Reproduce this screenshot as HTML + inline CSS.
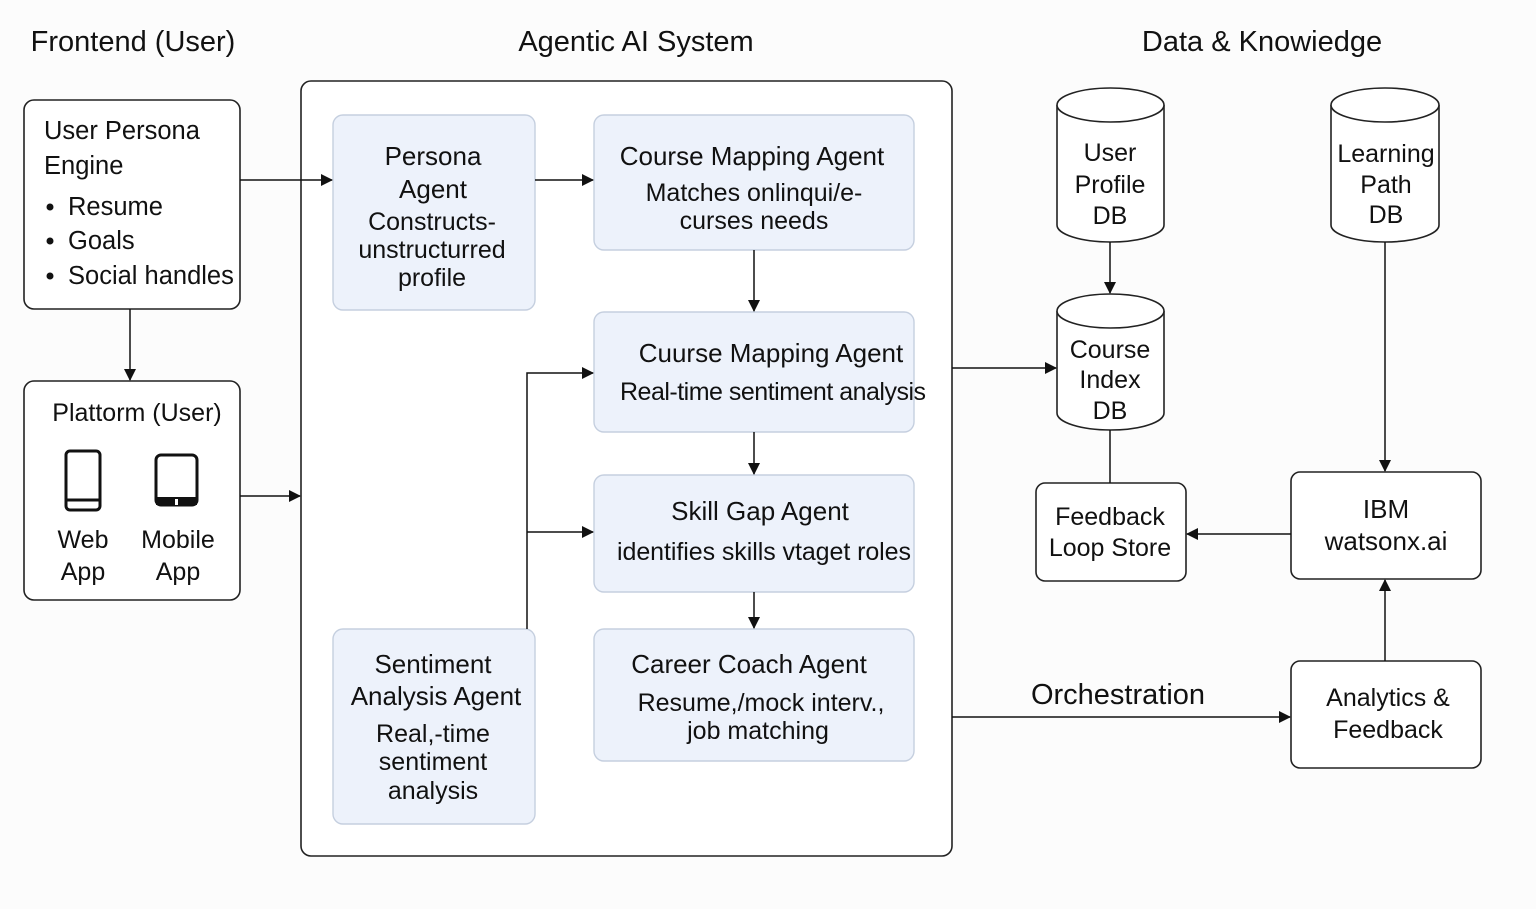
<!DOCTYPE html>
<html><head><meta charset="utf-8"><style>
html,body{margin:0;padding:0;background:#fcfcfc;}
svg{display:block;font-family:"Liberation Sans",sans-serif;}
text{fill:#111;}
</style></head><body>
<svg width="1536" height="909" viewBox="0 0 1536 909" xmlns="http://www.w3.org/2000/svg">
<defs><marker id="a" markerWidth="12" markerHeight="12" refX="11" refY="6" orient="auto" markerUnits="userSpaceOnUse"><path d="M0,0 L12,6 L0,12 z" fill="#111"/></marker></defs>
<rect width="1536" height="909" fill="#fcfcfc"/>
<g font-size="29" text-anchor="middle">
<text x="133" y="51">Frontend (User)</text>
<text x="636" y="51">Agentic AI System</text>
<text x="1262" y="51">Data &amp; Knowiedge</text>
</g>
<g fill="#fff" stroke="#222" stroke-width="1.6">
<rect x="24" y="100" width="216" height="209" rx="10"/>
<rect x="24" y="381" width="216" height="219" rx="10"/>
<rect x="301" y="81" width="651" height="775" rx="10"/>
<rect x="1036" y="483" width="150" height="98" rx="9"/>
<rect x="1291" y="472" width="190" height="107" rx="9"/>
<rect x="1291" y="661" width="190" height="107" rx="9"/>
</g>
<g fill="#edf2fb" stroke="#c5cfdf" stroke-width="1.4">
<rect x="333" y="115" width="202" height="195" rx="10"/>
<rect x="594" y="115" width="320" height="135" rx="10"/>
<rect x="594" y="312" width="320" height="120" rx="10"/>
<rect x="594" y="475" width="320" height="117" rx="10"/>
<rect x="594" y="629" width="320" height="132" rx="10"/>
<rect x="333" y="629" width="202" height="195" rx="10"/>
</g>
<g fill="#fff" stroke="#222" stroke-width="1.6">
<path d="M1057,105 v120 a53.5,17 0 0 0 107,0 v-120"/><ellipse cx="1110.5" cy="105" rx="53.5" ry="17"/>
<path d="M1331,105 v120 a54,17 0 0 0 108,0 v-120"/><ellipse cx="1385" cy="105" rx="54" ry="17"/>
<path d="M1057,311 v102 a53.5,17 0 0 0 107,0 v-102"/><ellipse cx="1110.5" cy="311" rx="53.5" ry="17"/>
</g>
<g fill="none" stroke="#111" stroke-width="3">
<rect x="66" y="451" width="34" height="59" rx="4"/><line x1="66" y1="500" x2="100" y2="500"/>
<rect x="156" y="455" width="41" height="50" rx="5"/>
</g>
<rect x="156" y="497" width="41" height="8" fill="#111"/>
<rect x="175" y="499" width="3" height="6" fill="#fff"/>
<g stroke="#111" stroke-width="1.5" fill="none" marker-end="url(#a)">
<line x1="240" y1="180" x2="332" y2="180"/>
<line x1="535" y1="180" x2="593" y2="180"/>
<line x1="754" y1="250" x2="754" y2="311"/>
<line x1="754" y1="432" x2="754" y2="474"/>
<line x1="754" y1="592" x2="754" y2="628"/>
<line x1="130" y1="309" x2="130" y2="380"/>
<line x1="240" y1="496" x2="300" y2="496"/>
<polyline points="527,629 527,373 593,373"/>
<line x1="527" y1="532" x2="593" y2="532"/>
<line x1="952" y1="368" x2="1056" y2="368"/>
<line x1="1110" y1="242" x2="1110" y2="293"/>
<line x1="1385" y1="242" x2="1385" y2="471"/>
<line x1="1291" y1="534" x2="1187" y2="534"/>
<line x1="1385" y1="661" x2="1385" y2="580"/>
<line x1="952" y1="717" x2="1290" y2="717"/>
</g>
<line x1="1110" y1="430" x2="1110" y2="483" stroke="#111" stroke-width="1.5"/>
<g font-size="25.5">
<text x="44" y="139">User Persona</text>
<text x="44" y="174">Engine</text>
<circle cx="50" cy="207" r="3.5" fill="#111"/><text x="68" y="215">Resume</text>
<circle cx="50" cy="241" r="3.5" fill="#111"/><text x="68" y="249">Goals</text>
<circle cx="50" cy="276" r="3.5" fill="#111"/><text x="68" y="284">Social handles</text>
</g>
<g font-size="25" text-anchor="middle">
<text x="137" y="421">Plattorm (User)</text>
<text x="83" y="548">Web</text><text x="83" y="580">App</text>
<text x="178" y="548">Mobile</text><text x="178" y="580">App</text>
<text x="433" y="165" font-size="26">Persona</text>
<text x="433" y="198" font-size="26">Agent</text>
<text x="432" y="230">Constructs-</text>
<text x="432" y="258">unstructurred</text>
<text x="432" y="286">profile</text>
<text x="752" y="165" font-size="26">Course Mapping Agent</text>
<text x="754" y="201">Matches onlinqui/e-</text>
<text x="754" y="229">curses needs</text>
<text x="771" y="362" font-size="26">Cuurse Mapping Agent</text>
<text x="773" y="400" textLength="306">Real-time sentiment analysis</text>
<text x="760" y="520" font-size="26">Skill Gap Agent</text>
<text x="764" y="560" textLength="294">identifies skills vtaget roles</text>
<text x="749" y="673" font-size="26">Career Coach Agent</text>
<text x="761" y="711">Resume,/mock interv.,</text>
<text x="758" y="739">job matching</text>
<text x="433" y="673" font-size="26">Sentiment</text>
<text x="436" y="705" font-size="26">Analysis Agent</text>
<text x="433" y="742">Real,-time</text>
<text x="433" y="770">sentiment</text>
<text x="433" y="799">analysis</text>
<text x="1110" y="161">User</text><text x="1110" y="193">Profile</text><text x="1110" y="224">DB</text>
<text x="1386" y="162">Learning</text><text x="1386" y="193">Path</text><text x="1386" y="223">DB</text>
<text x="1110" y="358">Course</text><text x="1110" y="388">Index</text><text x="1110" y="419">DB</text>
<text x="1110" y="525">Feedback</text><text x="1110" y="556">Loop Store</text>
<text x="1386" y="518" font-size="26">IBM</text><text x="1386" y="550" font-size="26">watsonx.ai</text>
<text x="1388" y="706">Analytics &amp;</text><text x="1388" y="738">Feedback</text>
<text x="1118" y="704" font-size="29">Orchestration</text>
</g>
</svg>
</body></html>
